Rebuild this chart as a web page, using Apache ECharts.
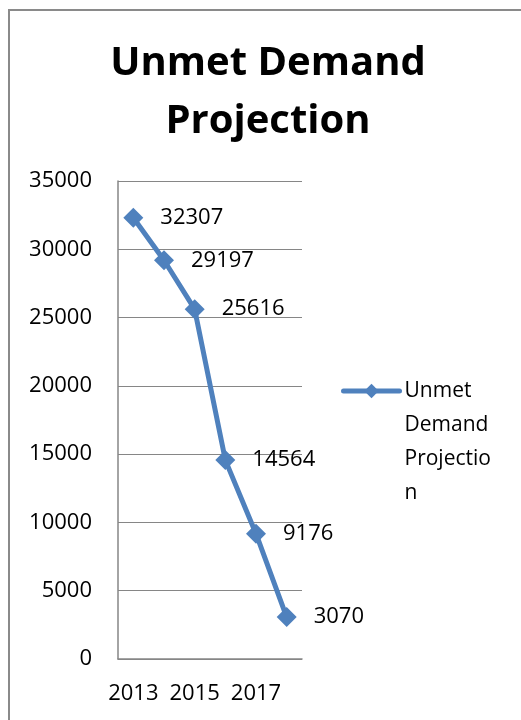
<!DOCTYPE html>
<html>
<head>
<meta charset="utf-8">
<script src="https://cdn.jsdelivr.net/npm/echarts@6/dist/echarts.min.js"></script>
<style>
  html, body { margin: 0; padding: 0; background: #fff; }
  #chart { width: 521px; height: 720px; }
</style>
</head>
<body>
<div id="chart"></div>
<script>
const years = ['2013', '2014', '2015', '2016', '2017', '2018']
const unmetDemand = [32307, 29197, 25616, 14564, 9176, 3070]
const seriesName = 'Unmet Demand Projection'

const FONT = 'Open Sans'
const chart = echarts.init(document.getElementById('chart'))

const option = {
  backgroundColor: '#fff',
  title: {
    text: 'Unmet Demand\nProjection',
    left: 263,
    textAlign: 'center',
    top: 30,
    textStyle: {
      fontFamily: FONT,
      fontSize: 40,
      fontWeight: 'bold',
      color: '#000',
      lineHeight: 58
    }
  },
  legend: {
    data: [seriesName],
    left: 336,
    top: 267,
    orient: 'vertical',
    itemWidth: 56,
    itemHeight: 18,
    itemGap: 4,
    // leading blank lines keep the first word level with the icon
    formatter: () => '\n\n\nUnmet\nDemand\nProjectio\nn',
    lineStyle: { width: 5, color: '#4F81BD', cap: 'round' },
    textStyle: {
      fontFamily: FONT,
      fontSize: 21,
      color: '#000',
      lineHeight: 34
    }
  },
  grid: {
    left: 118,
    top: 181,
    right: 219,
    bottom: 61
  },
  xAxis: {
    type: 'category',
    data: years,
    boundaryGap: true,
    axisLine: { lineStyle: { color: '#868686', width: 1.5 } },
    axisTick: { show: false },
    axisLabel: {
      interval: 1,
      margin: 24,
      fontFamily: FONT,
      fontSize: 22,
      color: '#000'
    }
  },
  yAxis: {
    type: 'value',
    min: 0,
    max: 35000,
    interval: 5000,
    axisLine: { show: true, lineStyle: { color: '#868686', width: 1.5 } },
    axisTick: { show: false },
    splitLine: { lineStyle: { color: '#868686', width: 1.2 } },
    axisLabel: {
      margin: 26,
      fontFamily: FONT,
      fontSize: 22,
      color: '#000',
      formatter: v => String(v)
    }
  },
  series: [{
    name: seriesName,
    type: 'line',
    data: unmetDemand,
    symbol: 'diamond',
    symbolSize: 20,
    lineStyle: { color: '#4F81BD', width: 5 },
    itemStyle: { color: '#4F81BD' },
    label: {
      show: true,
      position: 'right',
      distance: 17,
      fontFamily: FONT,
      fontSize: 22,
      color: '#000'
    },
    animation: false
  }],
  graphic: [{
    type: 'rect',
    shape: { x: 9, y: 10, width: 700, height: 900 },
    style: { fill: 'none', stroke: '#8a8a8a', lineWidth: 2 },
    silent: true
  }],
  animation: false
}

chart.setOption(option)
window.addEventListener('resize', chart.resize)
</script>
</body>
</html>
